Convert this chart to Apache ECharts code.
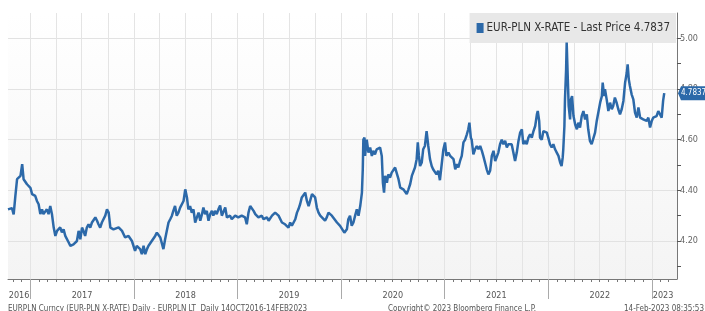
<!DOCTYPE html>
<html>
<head>
<meta charset="utf-8">
<script src="https://cdn.jsdelivr.net/npm/echarts@6/dist/echarts.min.js"></script>
<style>
html, body { margin: 0; padding: 0; background: #fff; }
#box { width: 705px; height: 311px; }
</style>
</head>
<body>
<div id="box"></div>
<script>
// EUR-PLN daily, sampled off the chart
var dates = [
  '2016-10-14','2016-10-28','2016-11-03','2016-11-09','2016-11-15','2016-11-21','2016-11-27','2016-12-03','2016-12-08','2016-12-14','2016-12-20','2017-01-01',
  '2017-01-07','2017-01-12','2017-01-18','2017-01-24','2017-01-30','2017-02-05','2017-02-11','2017-02-16','2017-02-28','2017-03-06','2017-03-12','2017-03-18',
  '2017-03-24','2017-03-30','2017-04-05','2017-04-16','2017-04-22','2017-04-28','2017-05-04','2017-05-10','2017-05-16','2017-05-22','2017-06-02','2017-06-14',
  '2017-06-20','2017-06-26','2017-07-02','2017-07-07','2017-07-13','2017-07-19','2017-07-25','2017-07-31','2017-08-06','2017-08-18','2017-08-24','2017-08-29',
  '2017-09-04','2017-09-10','2017-09-16','2017-09-22','2017-09-28','2017-10-04','2017-10-10','2017-10-16','2017-10-21','2017-10-27','2017-11-08','2017-11-20',
  '2017-12-01','2017-12-13','2017-12-25',
  '2018-01-05','2018-01-11','2018-01-23','2018-01-29','2018-02-04','2018-02-10','2018-02-16','2018-02-21','2018-03-05','2018-03-17','2018-03-23','2018-04-04',
  '2018-04-15','2018-04-21','2018-04-27','2018-05-03','2018-05-09','2018-05-15','2018-05-20','2018-05-26','2018-06-01','2018-06-07','2018-06-13','2018-06-19',
  '2018-06-25','2018-07-01','2018-07-07','2018-07-12','2018-07-18','2018-07-24','2018-07-30','2018-08-05','2018-08-11','2018-08-17','2018-08-23','2018-08-29',
  '2018-09-03','2018-09-09','2018-09-15','2018-09-21','2018-09-27','2018-10-03','2018-10-08','2018-10-14','2018-10-20','2018-10-26','2018-11-01','2018-11-07',
  '2018-11-13','2018-11-19','2018-11-25','2018-12-06','2018-12-12','2018-12-24',
  '2019-01-04','2019-01-16','2019-01-28','2019-02-03','2019-02-09','2019-02-15','2019-02-21','2019-02-27','2019-03-05','2019-03-16','2019-03-28','2019-04-03',
  '2019-04-15','2019-04-21','2019-05-03','2019-05-14','2019-05-26','2019-06-07','2019-06-18','2019-06-24','2019-06-30','2019-07-06','2019-07-12','2019-07-18',
  '2019-07-24','2019-07-30','2019-08-04','2019-08-10','2019-08-16','2019-08-22','2019-08-28','2019-09-03','2019-09-09','2019-09-15','2019-09-21','2019-09-26',
  '2019-10-02','2019-10-08','2019-10-14','2019-10-20','2019-10-26','2019-11-06','2019-11-12','2019-11-18','2019-11-24','2019-11-30','2019-12-06','2019-12-18',
  '2019-12-23','2019-12-29',
  '2020-01-13','2020-01-18','2020-01-22','2020-01-27','2020-02-02','2020-02-08','2020-02-14','2020-02-20','2020-02-26','2020-03-03','2020-03-09','2020-03-15',
  '2020-03-18','2020-03-20','2020-03-24','2020-03-26','2020-04-01','2020-04-07','2020-04-13','2020-04-19','2020-04-24','2020-04-30','2020-05-06','2020-05-12',
  '2020-05-18','2020-05-24','2020-05-28','2020-06-01','2020-06-05','2020-06-11','2020-06-16','2020-06-22','2020-06-28','2020-07-04','2020-07-10','2020-07-16',
  '2020-07-22','2020-07-28','2020-08-03','2020-08-08','2020-08-14','2020-08-20','2020-08-26','2020-09-01','2020-09-07','2020-09-12','2020-09-18','2020-09-24',
  '2020-09-28','2020-10-02','2020-10-06','2020-10-12','2020-10-17','2020-10-23','2020-10-29','2020-11-04','2020-11-10','2020-11-16','2020-11-21','2020-11-27',
  '2020-12-03','2020-12-09','2020-12-15','2020-12-21','2020-12-27',
  '2021-01-02','2021-01-07','2021-01-14','2021-01-20','2021-01-26','2021-02-01','2021-02-07','2021-02-13','2021-02-18','2021-02-24','2021-03-02','2021-03-08',
  '2021-03-14','2021-03-20','2021-03-25','2021-03-29','2021-04-03','2021-04-06','2021-04-12','2021-04-18','2021-04-24','2021-04-30','2021-05-06','2021-05-12',
  '2021-05-17','2021-05-23','2021-05-29','2021-06-04','2021-06-10','2021-06-16','2021-06-22','2021-06-28','2021-07-04','2021-07-09','2021-07-15','2021-07-21',
  '2021-07-27','2021-08-02','2021-08-08','2021-08-13','2021-08-19','2021-08-25','2021-08-31','2021-09-06','2021-09-12','2021-09-18','2021-09-24','2021-09-30',
  '2021-10-05','2021-10-11','2021-10-17','2021-10-23','2021-10-29','2021-11-04','2021-11-10','2021-11-16','2021-11-22','2021-11-25','2021-11-30','2021-12-03',
  '2021-12-09','2021-12-15','2021-12-21','2021-12-27',
  '2022-01-01','2022-01-07','2022-01-13','2022-01-19','2022-01-25','2022-01-31','2022-02-06','2022-02-12','2022-02-17','2022-02-21','2022-02-23','2022-02-27',
  '2022-03-01','2022-03-05','2022-03-07','2022-03-11','2022-03-14','2022-03-19','2022-03-22','2022-03-26','2022-03-31','2022-04-06','2022-04-12','2022-04-17',
  '2022-04-23','2022-04-29','2022-05-05','2022-05-11','2022-05-17','2022-05-22','2022-05-28','2022-06-03','2022-06-09','2022-06-15','2022-06-21','2022-06-27',
  '2022-07-03','2022-07-09','2022-07-12','2022-07-17','2022-07-20','2022-07-26','2022-08-01','2022-08-07','2022-08-13','2022-08-18','2022-08-24','2022-08-30',
  '2022-09-05','2022-09-11','2022-09-17','2022-09-23','2022-09-29','2022-10-05','2022-10-08','2022-10-12','2022-10-16','2022-10-22','2022-10-28','2022-11-03',
  '2022-11-09','2022-11-15','2022-11-21','2022-11-27','2022-12-02','2022-12-08','2022-12-14','2022-12-20','2022-12-26',
  '2023-01-01','2023-01-06','2023-01-12','2023-01-18','2023-01-24','2023-01-30','2023-02-05','2023-02-10','2023-02-14'
];
var eurPln = [
  4.325,4.330,4.305,4.378,4.444,4.437,4.457,4.503,4.444,4.450,4.424,4.410,
  4.385,4.390,4.378,4.358,4.345,4.306,4.325,4.306,4.325,4.306,4.338,4.306,
  4.254,4.220,4.240,4.254,4.234,4.246,4.220,4.214,4.194,4.181,4.187,4.200,
  4.240,4.207,4.253,4.240,4.220,4.253,4.266,4.253,4.273,4.293,4.280,4.266,
  4.253,4.273,4.280,4.300,4.325,4.312,4.253,4.254,4.246,4.246,4.254,4.240,
  4.214,4.220,4.200,
  4.161,4.181,4.168,4.148,4.181,4.148,4.168,4.180,4.200,4.220,4.233,4.214,
  4.168,4.207,4.240,4.273,4.286,4.300,4.319,4.338,4.300,4.312,4.332,4.325,
  4.358,4.404,4.372,4.325,4.338,4.312,4.325,4.273,4.293,4.312,4.280,4.306,
  4.332,4.306,4.319,4.280,4.306,4.319,4.300,4.319,4.306,4.325,4.340,4.300,
  4.293,4.332,4.293,4.300,4.286,4.300,
  4.293,4.300,4.293,4.266,4.312,4.338,4.332,4.319,4.306,4.293,4.300,4.286,
  4.293,4.280,4.300,4.312,4.300,4.273,4.266,4.260,4.253,4.273,4.260,4.262,
  4.286,4.312,4.325,4.345,4.372,4.378,4.391,4.358,4.338,4.345,4.385,4.391,
  4.372,4.332,4.312,4.300,4.293,4.280,4.293,4.312,4.305,4.300,4.293,4.273,
  4.266,4.260,
  4.233,4.227,4.246,4.286,4.300,4.260,4.273,4.300,4.325,4.300,4.338,4.391,
  4.483,4.600,4.608,4.536,4.600,4.549,4.569,4.536,4.556,4.542,4.562,4.556,
  4.569,4.536,4.430,4.391,4.457,4.430,4.463,4.450,4.470,4.463,4.490,4.483,
  4.444,4.411,4.417,4.404,4.411,4.385,4.404,4.424,4.457,4.450,4.490,4.523,
  4.589,4.536,4.496,4.510,4.562,4.575,4.634,4.575,4.523,4.496,4.483,4.490,
  4.463,4.477,4.440,4.500,4.560,
  4.589,4.536,4.549,4.536,4.542,4.523,4.483,4.503,4.490,4.516,4.536,4.589,
  4.600,4.621,4.641,4.667,4.608,4.600,4.542,4.562,4.575,4.562,4.575,4.556,
  4.536,4.510,4.483,4.463,4.477,4.536,4.556,4.516,4.510,4.549,4.582,4.600,
  4.582,4.595,4.569,4.582,4.575,4.582,4.549,4.516,4.549,4.595,4.628,4.641,
  4.582,4.595,4.582,4.608,4.621,4.608,4.634,4.654,4.700,4.713,4.674,4.608,
  4.600,4.634,4.641,4.628,
  4.608,4.582,4.569,4.582,4.562,4.549,4.536,4.510,4.496,4.530,4.562,4.654,
  4.759,4.878,4.983,4.838,4.733,4.680,4.759,4.772,4.693,4.660,4.641,4.667,
  4.648,4.693,4.713,4.680,4.700,4.641,4.595,4.582,4.589,4.628,4.674,4.680,
  4.746,4.772,4.825,4.772,4.799,4.759,4.713,4.746,4.720,4.733,4.766,4.746,
  4.720,4.700,4.720,4.753,4.825,4.865,4.897,4.838,4.812,4.779,4.759,4.707,
  4.687,4.727,4.687,4.693,4.680,4.687,4.674,4.687,4.648,
  4.674,4.687,4.680,4.693,4.713,4.707,4.687,4.753,4.7837
];
var lastPrice = 4.7837;
var seriesName = 'EUR-PLN X-RATE - Last Price 4.7837';

var xMin = '2016-10-14';
var xMax = '2023-03-31';
var yMin = 4.05;
var yMax = 5.10;
var yTicks = [4.1, 4.2, 4.3, 4.4, 4.5, 4.6, 4.7, 4.8, 4.9, 5.0];
var yLabels = [4.2, 4.4, 4.6, 4.8, 5.0];
var yearLabelDates = ['2016-11-22', '2017-07-02', '2018-07-02', '2019-07-02', '2020-07-02', '2021-07-02', '2022-07-02', '2023-02-10'];

var blue = '#2c69a9';
var narrow = '"Liberation Sans Narrow", "DejaVu Sans Condensed", sans-serif';

function ms(s) { return Date.parse(s); }
function pad(n) { return n < 10 ? '0' + n : '' + n; }

var monthTicks = [], quarterLines = [], yearStarts = [];
for (var y = 2016; y <= 2023; y++) {
  for (var m = 1; m <= 12; m++) {
    var d = y + '-' + pad(m) + '-01';
    if (d <= xMin || d > xMax) continue;
    monthTicks.push(ms(d));
    if (m % 3 === 1) quarterLines.push(ms(d));
    if (m === 1) yearStarts.push(ms(d));
  }
}

var chart = echarts.init(document.getElementById('box'));

function dateAxis(extra) {
  var a = {
    type: 'value', min: ms(xMin), max: ms(xMax), position: 'bottom', offset: 0,
    axisLine: { show: false },
    axisTick: { show: false },
    axisLabel: { show: false },
    splitLine: { show: false }
  };
  for (var k in extra) a[k] = extra[k];
  return a;
}

var option = {
  animation: false,
  backgroundColor: '#ffffff',
  grid: {
    left: 8, right: 28, top: 13, bottom: 32,
    show: true,
    borderWidth: 0,
    backgroundColor: new echarts.graphic.LinearGradient(0, 0, 0, 1, [
      { offset: 0, color: '#ffffff' },
      { offset: 1, color: '#f4f4f4' }
    ])
  },
  legend: {
    right: 29, top: 13,
    selectedMode: false,
    backgroundColor: '#e8e8e8',
    padding: [9, 6, 9, 7],
    itemWidth: 7, itemHeight: 10, itemGap: 4,
    textStyle: { fontFamily: narrow, fontSize: 11.5, color: '#333', padding: [0, 0, 0, -2] },
    data: [{ name: seriesName, icon: 'rect' }]
  },
  xAxis: [
    // data axis with monthly ticks
    dateAxis({
      axisLine: { show: true, lineStyle: { color: '#777', width: 1 } },
      axisTick: { show: true, length: 3, customValues: monthTicks, lineStyle: { color: '#777' } }
    }),
    // year separators and year labels
    dateAxis({
      axisTick: { show: true, length: 20, customValues: yearStarts, lineStyle: { color: '#aaa' } },
      axisLabel: {
        show: true, customValues: yearLabelDates.map(ms), margin: 12,
        fontFamily: narrow, fontSize: 9, color: '#555',
        formatter: function (v) { return String(new Date(v).getUTCFullYear()); }
      }
    }),
    // quarterly grid lines
    dateAxis({
      axisTick: { show: false, customValues: quarterLines },
      splitLine: { show: true, lineStyle: { color: '#e4e4e4', width: 1 } }
    })
  ],
  yAxis: [
    {
      type: 'value', position: 'right', min: yMin, max: yMax,
      axisLine: { show: true, lineStyle: { color: '#777' } },
      axisTick: { show: true, length: 4, customValues: yTicks, lineStyle: { color: '#555' } },
      axisLabel: {
        show: true, customValues: yLabels, margin: 3,
        fontFamily: narrow, fontSize: 9, color: '#666',
        formatter: function (v) { return v.toFixed(2); }
      },
      splitLine: { show: false }
    },
    {
      type: 'value', position: 'right', min: yMin, max: yMax,
      axisLine: { show: false },
      axisTick: { show: false, customValues: yLabels },
      axisLabel: { show: false },
      splitLine: { show: true, lineStyle: { color: '#e2e2e2', width: 1 } }
    }
  ],
  series: [
    {
      name: seriesName,
      type: 'line',
      xAxisIndex: 0, yAxisIndex: 0,
      showSymbol: false,
      symbol: 'none',
      color: blue,
      lineStyle: { color: blue, width: 2.5 },
      data: dates.map(function (d, i) { return [ms(d), eurPln[i]]; }),
      z: 5
    }
  ],
  graphic: [
    { type: 'text', left: 8, top: 305, style: { text: 'EURPLN Curncy (EUR-PLN X-RATE) Daily - EURPLN LT  Daily 14OCT2016-14FEB2023', font: '8px ' + narrow, fill: '#555' } },
    { type: 'text', left: 388, top: 305, style: { text: 'Copyright\u00a9 2023 Bloomberg Finance L.P.', font: '8px ' + narrow, fill: '#555' } },
    { type: 'text', right: 1, top: 305, style: { text: '14-Feb-2023 08:35:53', font: '8px ' + narrow, fill: '#555' } }
  ]
};

chart.setOption(option);

// last price tag on the right axis
var tagY = chart.convertToPixel({ yAxisIndex: 0 }, lastPrice);
var axisX = chart.convertToPixel({ xAxisIndex: 0 }, ms(xMax));
chart.setOption({
  graphic: option.graphic.concat([
    {
      type: 'polygon', z: 20,
      shape: { points: [[axisX + 1, tagY], [axisX + 4, tagY - 7], [705, tagY - 7], [705, tagY + 7], [axisX + 4, tagY + 7]] },
      style: { fill: blue }
    },
    {
      type: 'text', z: 21, left: axisX + 4, top: tagY - 4.5,
      style: { text: lastPrice.toFixed(4), font: '8px ' + narrow, fill: '#fff' }
    }
  ])
});
</script>
</body>
</html>
